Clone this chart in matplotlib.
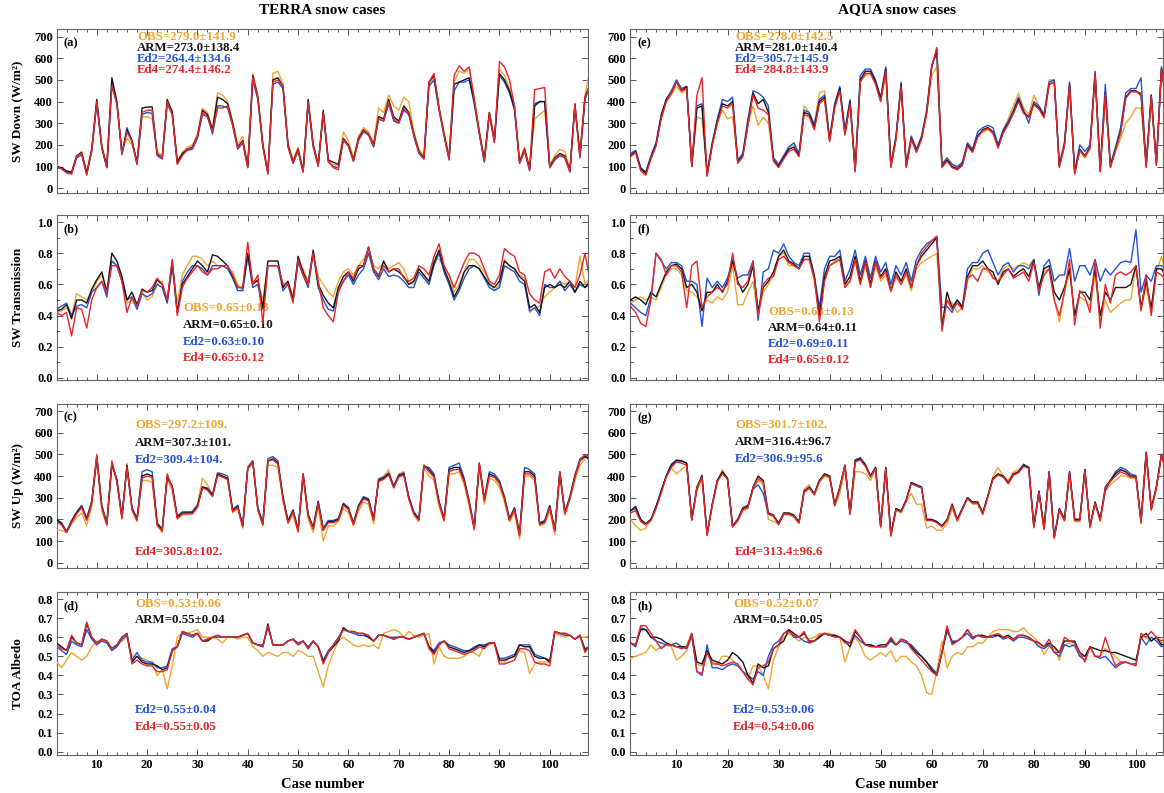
import matplotlib
matplotlib.use("Agg")
import matplotlib.pyplot as plt
from matplotlib.ticker import MultipleLocator

plt.rcParams['font.family'] = ['Liberation Serif', 'DejaVu Serif']
plt.rcParams['font.weight'] = 'bold'

# ---------------- data (case 1..108) ----------------
terra_down_arm = [100, 100, 95, 80, 75, 150, 165, 70, 180, 410,
                  190, 100, 510, 400, 160, 270, 220, 120, 370, 375,
                  375, 160, 140, 410, 350, 120, 160, 180, 190, 240,
                  360, 340, 270, 420, 410, 390, 300, 190, 220, 100,
                  520, 420, 200, 70, 500, 510, 470, 200, 120, 180,
                  80, 410, 200, 110, 360, 130, 120, 110, 230, 200,
                  130, 230, 270, 250, 200, 330, 320, 410, 330, 310,
                  380, 350, 250, 170, 140, 490, 520, 370, 250, 140,
                  480, 490, 500, 510, 400, 260, 130, 350, 220, 530,
                  500, 450, 370, 120, 180, 90, 380, 400, 400, 100,
                  140, 160, 150, 80, 390, 150, 420, 480]
terra_down_obs = [100, 105, 90, 75, 70, 145, 170, 75, 175, 400,
                  200, 105, 490, 390, 170, 230, 200, 125, 330, 330,
                  320, 170, 150, 400, 360, 125, 165, 190, 200, 250,
                  370, 350, 275, 440, 430, 400, 310, 200, 240, 105,
                  530, 430, 210, 75, 530, 540, 480, 210, 130, 190,
                  85, 400, 210, 105, 350, 135, 110, 105, 260, 220,
                  140, 240, 280, 260, 210, 370, 350, 430, 380, 360,
                  420, 400, 260, 180, 150, 480, 510, 380, 260, 150,
                  490, 540, 530, 550, 420, 270, 140, 350, 230, 550,
                  520, 460, 380, 130, 190, 95, 320, 340, 360, 110,
                  150, 180, 170, 90, 380, 160, 430, 550]
terra_down_ed2 = [95, 95, 90, 75, 70, 140, 155, 65, 170, 390,
                  185, 95, 480, 390, 155, 280, 215, 110, 340, 350,
                  345, 150, 135, 390, 340, 115, 155, 175, 180, 230,
                  340, 330, 250, 380, 380, 370, 290, 180, 210, 95,
                  500, 410, 190, 70, 480, 490, 460, 190, 115, 170,
                  75, 390, 190, 100, 350, 120, 100, 95, 220, 195,
                  125, 220, 260, 245, 190, 320, 310, 390, 310, 300,
                  360, 340, 240, 160, 135, 470, 500, 360, 240, 130,
                  450, 490, 490, 500, 390, 250, 120, 340, 210, 520,
                  490, 440, 360, 115, 170, 80, 390, 400, 400, 95,
                  130, 150, 140, 75, 380, 140, 410, 470]
terra_down_ed4 = [100, 100, 90, 70, 65, 150, 160, 60, 175, 400,
                  190, 95, 470, 390, 160, 260, 215, 110, 350, 360,
                  360, 155, 140, 400, 340, 110, 150, 180, 185, 240,
                  350, 330, 260, 370, 370, 380, 290, 185, 215, 95,
                  510, 420, 195, 65, 490, 500, 470, 195, 115, 175,
                  75, 400, 195, 105, 350, 125, 95, 85, 225, 195,
                  125, 225, 265, 250, 195, 320, 310, 400, 320, 300,
                  370, 345, 245, 165, 135, 490, 530, 370, 245, 135,
                  520, 565, 540, 560, 410, 255, 125, 345, 215, 585,
                  560, 500, 380, 115, 175, 85, 455, 460, 465, 95,
                  135, 155, 145, 75, 385, 145, 415, 480]

aqua_down_arm = [150, 170, 90, 70, 140, 200, 330, 410, 440, 490,
                 450, 470, 100, 370, 380, 60, 200, 310, 390, 380,
                 400, 120, 150, 300, 440, 390, 410, 350, 130, 100,
                 140, 180, 190, 150, 350, 340, 280, 400, 420, 220,
                 380, 460, 250, 400, 80, 500, 540, 540, 490, 410,
                 550, 100, 230, 480, 100, 230, 170, 230, 350, 560,
                 640, 100, 130, 100, 90, 110, 200, 170, 240, 270,
                 280, 260, 190, 260, 300, 350, 410, 350, 330, 390,
                 370, 330, 480, 490, 100, 200, 480, 70, 180, 150,
                 190, 530, 80, 440, 100, 180, 260, 420, 450, 450,
                 430, 100, 430, 110, 550, 400, 300, 400]
aqua_down_obs = [150, 165, 85, 65, 145, 210, 320, 400, 430, 470,
                 440, 460, 110, 330, 320, 70, 210, 300, 360, 320,
                 330, 130, 160, 300, 380, 290, 330, 300, 140, 110,
                 150, 190, 200, 160, 380, 350, 300, 440, 450, 230,
                 390, 460, 260, 400, 90, 490, 520, 530, 480, 400,
                 530, 110, 240, 470, 110, 240, 180, 240, 340, 520,
                 560, 110, 140, 110, 95, 120, 200, 180, 250, 260,
                 270, 250, 200, 270, 320, 380, 440, 370, 340, 430,
                 380, 340, 500, 500, 110, 210, 470, 80, 170, 140,
                 180, 510, 90, 420, 110, 170, 230, 300, 330, 370,
                 370, 110, 400, 120, 560, 380, 290, 380]
aqua_down_ed2 = [160, 175, 95, 75, 150, 210, 340, 410, 450, 500,
                 460, 470, 110, 380, 390, 70, 210, 320, 410, 400,
                 420, 130, 160, 320, 450, 440, 420, 380, 140, 110,
                 150, 190, 210, 160, 360, 350, 290, 410, 430, 230,
                 390, 470, 270, 410, 90, 520, 550, 550, 500, 420,
                 560, 110, 240, 490, 110, 240, 180, 240, 360, 570,
                 620, 110, 140, 110, 100, 120, 210, 180, 260, 280,
                 290, 280, 200, 270, 310, 360, 420, 360, 300, 400,
                 380, 340, 490, 500, 110, 210, 490, 80, 200, 170,
                 200, 540, 90, 480, 110, 190, 280, 440, 460, 460,
                 510, 110, 430, 120, 560, 410, 310, 410]
aqua_down_ed4 = [145, 165, 80, 60, 135, 195, 320, 400, 440, 490,
                 450, 460, 100, 430, 510, 55, 195, 300, 380, 370,
                 390, 115, 145, 290, 430, 370, 360, 340, 125, 95,
                 135, 170, 180, 145, 340, 330, 270, 390, 410, 215,
                 370, 450, 245, 390, 75, 490, 530, 530, 480, 400,
                 540, 95, 225, 470, 95, 225, 165, 225, 345, 560,
                 650, 95, 125, 95, 85, 105, 195, 165, 235, 265,
                 275, 255, 185, 255, 295, 345, 400, 345, 325, 385,
                 365, 325, 480, 490, 95, 195, 475, 65, 175, 145,
                 185, 530, 75, 435, 95, 175, 255, 415, 445, 445,
                 440, 95, 425, 105, 545, 395, 295, 395]

terra_trans_arm = [0.43, 0.43, 0.44, 0.47, 0.38, 0.50, 0.50, 0.48, 0.57, 0.63,
                   0.68, 0.55, 0.80, 0.75, 0.65, 0.50, 0.55, 0.47, 0.57, 0.55,
                   0.56, 0.63, 0.60, 0.50, 0.75, 0.42, 0.60, 0.65, 0.70, 0.75,
                   0.72, 0.68, 0.79, 0.78, 0.75, 0.72, 0.65, 0.58, 0.58, 0.80,
                   0.60, 0.63, 0.45, 0.75, 0.75, 0.75, 0.58, 0.62, 0.50, 0.78,
                   0.68, 0.60, 0.82, 0.60, 0.53, 0.48, 0.45, 0.58, 0.65, 0.68,
                   0.62, 0.70, 0.72, 0.84, 0.70, 0.65, 0.75, 0.68, 0.70, 0.68,
                   0.65, 0.60, 0.62, 0.70, 0.66, 0.62, 0.74, 0.82, 0.70, 0.62,
                   0.52, 0.58, 0.68, 0.72, 0.72, 0.70, 0.65, 0.60, 0.58, 0.62,
                   0.75, 0.72, 0.70, 0.65, 0.62, 0.45, 0.47, 0.42, 0.58, 0.60,
                   0.58, 0.60, 0.58, 0.62, 0.55, 0.62, 0.58, 0.62]
terra_trans_obs = [0.43, 0.42, 0.43, 0.45, 0.40, 0.54, 0.52, 0.50, 0.55, 0.62,
                   0.66, 0.55, 0.75, 0.72, 0.62, 0.48, 0.50, 0.45, 0.55, 0.50,
                   0.52, 0.60, 0.62, 0.48, 0.72, 0.48, 0.66, 0.72, 0.78, 0.78,
                   0.76, 0.72, 0.75, 0.72, 0.72, 0.70, 0.68, 0.60, 0.56, 0.78,
                   0.62, 0.62, 0.50, 0.72, 0.72, 0.72, 0.60, 0.62, 0.52, 0.75,
                   0.70, 0.62, 0.80, 0.65, 0.60, 0.55, 0.52, 0.62, 0.68, 0.70,
                   0.66, 0.72, 0.76, 0.82, 0.72, 0.70, 0.74, 0.70, 0.72, 0.74,
                   0.70, 0.62, 0.60, 0.66, 0.66, 0.60, 0.78, 0.76, 0.72, 0.66,
                   0.55, 0.60, 0.68, 0.76, 0.76, 0.72, 0.68, 0.62, 0.56, 0.60,
                   0.76, 0.72, 0.70, 0.66, 0.64, 0.42, 0.45, 0.46, 0.52, 0.55,
                   0.58, 0.62, 0.60, 0.62, 0.58, 0.78, 0.60, 0.64]
terra_trans_ed2 = [0.44, 0.44, 0.46, 0.48, 0.40, 0.46, 0.47, 0.45, 0.55, 0.58,
                   0.62, 0.52, 0.75, 0.72, 0.62, 0.50, 0.52, 0.44, 0.54, 0.52,
                   0.54, 0.60, 0.58, 0.48, 0.72, 0.42, 0.62, 0.68, 0.72, 0.72,
                   0.70, 0.66, 0.72, 0.72, 0.72, 0.70, 0.64, 0.56, 0.56, 0.78,
                   0.58, 0.60, 0.44, 0.72, 0.72, 0.72, 0.56, 0.60, 0.50, 0.74,
                   0.66, 0.58, 0.80, 0.58, 0.50, 0.44, 0.43, 0.56, 0.62, 0.66,
                   0.60, 0.66, 0.70, 0.80, 0.68, 0.63, 0.70, 0.65, 0.66, 0.65,
                   0.62, 0.58, 0.58, 0.68, 0.64, 0.60, 0.72, 0.80, 0.68, 0.60,
                   0.50, 0.56, 0.64, 0.70, 0.72, 0.70, 0.64, 0.58, 0.56, 0.58,
                   0.72, 0.70, 0.68, 0.62, 0.60, 0.43, 0.45, 0.40, 0.60, 0.58,
                   0.58, 0.62, 0.56, 0.60, 0.55, 0.60, 0.58, 0.60]
terra_trans_ed4 = [0.42, 0.42, 0.40, 0.42, 0.27, 0.45, 0.44, 0.32, 0.50, 0.58,
                   0.62, 0.55, 0.72, 0.72, 0.62, 0.42, 0.52, 0.46, 0.56, 0.55,
                   0.58, 0.64, 0.60, 0.50, 0.76, 0.40, 0.58, 0.64, 0.68, 0.72,
                   0.68, 0.66, 0.70, 0.70, 0.72, 0.72, 0.66, 0.58, 0.58, 0.87,
                   0.60, 0.66, 0.35, 0.72, 0.72, 0.72, 0.60, 0.60, 0.48, 0.76,
                   0.66, 0.60, 0.80, 0.62, 0.45, 0.40, 0.36, 0.55, 0.62, 0.68,
                   0.64, 0.72, 0.72, 0.84, 0.70, 0.66, 0.72, 0.68, 0.70, 0.70,
                   0.64, 0.62, 0.64, 0.72, 0.70, 0.66, 0.78, 0.86, 0.72, 0.66,
                   0.58, 0.66, 0.74, 0.80, 0.80, 0.78, 0.70, 0.62, 0.60, 0.66,
                   0.83, 0.80, 0.78, 0.68, 0.66, 0.54, 0.50, 0.48, 0.68, 0.70,
                   0.64, 0.70, 0.65, 0.62, 0.58, 0.66, 0.80, 0.62]

aqua_trans_arm = [0.50, 0.52, 0.50, 0.47, 0.55, 0.52, 0.60, 0.68, 0.72, 0.73,
                  0.70, 0.58, 0.60, 0.55, 0.43, 0.55, 0.55, 0.60, 0.55, 0.62,
                  0.75, 0.62, 0.55, 0.60, 0.72, 0.43, 0.58, 0.62, 0.68, 0.78,
                  0.82, 0.75, 0.73, 0.70, 0.78, 0.78, 0.65, 0.40, 0.65, 0.75,
                  0.76, 0.78, 0.60, 0.65, 0.78, 0.62, 0.75, 0.60, 0.75, 0.65,
                  0.70, 0.56, 0.68, 0.62, 0.70, 0.58, 0.72, 0.78, 0.82, 0.86,
                  0.90, 0.32, 0.55, 0.45, 0.50, 0.45, 0.65, 0.72, 0.72, 0.75,
                  0.70, 0.68, 0.60, 0.68, 0.70, 0.65, 0.68, 0.70, 0.65, 0.75,
                  0.58, 0.70, 0.72, 0.55, 0.50, 0.58, 0.70, 0.40, 0.55, 0.55,
                  0.50, 0.70, 0.40, 0.55, 0.50, 0.58, 0.58, 0.58, 0.60, 0.72,
                  0.45, 0.62, 0.45, 0.70, 0.70, 0.65, 0.72, 0.70]
aqua_trans_obs = [0.48, 0.50, 0.52, 0.50, 0.52, 0.50, 0.58, 0.66, 0.70, 0.70,
                  0.66, 0.56, 0.55, 0.52, 0.45, 0.50, 0.48, 0.52, 0.50, 0.55,
                  0.72, 0.47, 0.47, 0.55, 0.62, 0.40, 0.55, 0.60, 0.66, 0.78,
                  0.80, 0.72, 0.72, 0.70, 0.76, 0.76, 0.62, 0.42, 0.62, 0.72,
                  0.75, 0.76, 0.60, 0.62, 0.75, 0.60, 0.72, 0.58, 0.72, 0.62,
                  0.66, 0.55, 0.65, 0.60, 0.66, 0.56, 0.70, 0.74, 0.76, 0.78,
                  0.80, 0.36, 0.50, 0.48, 0.42, 0.45, 0.62, 0.70, 0.70, 0.72,
                  0.68, 0.66, 0.62, 0.70, 0.72, 0.70, 0.72, 0.74, 0.72, 0.76,
                  0.55, 0.68, 0.70, 0.50, 0.36, 0.55, 0.68, 0.40, 0.52, 0.50,
                  0.46, 0.66, 0.36, 0.50, 0.42, 0.45, 0.48, 0.50, 0.50, 0.72,
                  0.45, 0.58, 0.42, 0.68, 0.78, 0.66, 0.74, 0.70]
aqua_trans_ed2 = [0.48, 0.45, 0.42, 0.40, 0.52, 0.80, 0.75, 0.70, 0.74, 0.74,
                  0.72, 0.62, 0.62, 0.60, 0.33, 0.64, 0.58, 0.62, 0.58, 0.64,
                  0.76, 0.64, 0.66, 0.66, 0.75, 0.37, 0.68, 0.70, 0.82, 0.80,
                  0.86, 0.78, 0.74, 0.72, 0.80, 0.80, 0.66, 0.45, 0.70, 0.78,
                  0.78, 0.82, 0.62, 0.70, 0.82, 0.66, 0.78, 0.64, 0.78, 0.68,
                  0.74, 0.60, 0.72, 0.66, 0.74, 0.62, 0.76, 0.82, 0.86, 0.88,
                  0.90, 0.45, 0.46, 0.42, 0.50, 0.46, 0.70, 0.74, 0.74, 0.80,
                  0.82, 0.74, 0.66, 0.72, 0.74, 0.68, 0.72, 0.72, 0.70, 0.76,
                  0.53, 0.72, 0.76, 0.62, 0.66, 0.66, 0.83, 0.62, 0.72, 0.72,
                  0.66, 0.76, 0.62, 0.70, 0.66, 0.70, 0.74, 0.75, 0.74, 0.95,
                  0.55, 0.66, 0.62, 0.72, 0.72, 0.70, 0.76, 0.72]
aqua_trans_ed4 = [0.46, 0.42, 0.35, 0.33, 0.50, 0.80, 0.76, 0.66, 0.72, 0.72,
                  0.68, 0.45, 0.72, 0.75, 0.45, 0.52, 0.55, 0.58, 0.56, 0.60,
                  0.80, 0.60, 0.58, 0.62, 0.75, 0.40, 0.60, 0.64, 0.65, 0.76,
                  0.78, 0.74, 0.72, 0.70, 0.76, 0.76, 0.64, 0.36, 0.62, 0.72,
                  0.74, 0.76, 0.58, 0.62, 0.76, 0.60, 0.74, 0.58, 0.74, 0.64,
                  0.68, 0.56, 0.66, 0.60, 0.68, 0.58, 0.72, 0.80, 0.84, 0.88,
                  0.91, 0.30, 0.50, 0.44, 0.48, 0.44, 0.64, 0.66, 0.62, 0.70,
                  0.70, 0.64, 0.62, 0.66, 0.70, 0.64, 0.66, 0.68, 0.62, 0.74,
                  0.56, 0.66, 0.70, 0.50, 0.40, 0.55, 0.76, 0.34, 0.56, 0.52,
                  0.42, 0.76, 0.32, 0.60, 0.48, 0.66, 0.68, 0.66, 0.68, 0.72,
                  0.43, 0.66, 0.40, 0.68, 0.66, 0.62, 0.70, 0.68]

terra_up_arm = [200, 200, 180, 140, 190, 230, 260, 200, 280, 490,
                260, 180, 460, 380, 210, 450, 250, 200, 400, 410,
                400, 180, 150, 400, 350, 210, 230, 230, 230, 260,
                350, 340, 310, 410, 400, 390, 240, 260, 170, 440,
                470, 250, 180, 470, 480, 460, 300, 190, 240, 150,
                410, 220, 160, 280, 150, 190, 190, 200, 270, 250,
                180, 260, 300, 290, 200, 380, 390, 410, 350, 400,
                410, 300, 230, 200, 450, 430, 400, 280, 200, 430,
                440, 440, 380, 280, 160, 460, 290, 410, 400, 370,
                300, 200, 250, 130, 420, 420, 400, 180, 190, 260,
                150, 420, 230, 300, 400, 470, 490, 480]
terra_up_obs = [160, 150, 150, 140, 180, 210, 230, 170, 260, 470,
                240, 170, 450, 370, 200, 460, 240, 190, 380, 380,
                370, 170, 140, 390, 330, 200, 220, 230, 240, 270,
                390, 360, 310, 400, 400, 380, 230, 250, 160, 430,
                460, 240, 170, 450, 450, 440, 280, 180, 220, 140,
                390, 200, 140, 260, 100, 170, 170, 190, 250, 230,
                170, 240, 280, 270, 180, 390, 400, 430, 350, 410,
                420, 290, 220, 190, 440, 400, 380, 260, 190, 410,
                410, 420, 360, 260, 150, 440, 270, 390, 380, 350,
                280, 190, 230, 110, 400, 400, 380, 170, 180, 240,
                130, 400, 220, 290, 380, 450, 480, 500]
terra_up_ed2 = [200, 200, 185, 145, 195, 235, 265, 205, 285, 485,
                265, 185, 455, 385, 215, 440, 255, 205, 420, 430,
                420, 185, 155, 395, 355, 215, 235, 235, 235, 265,
                350, 345, 315, 415, 410, 400, 245, 265, 175, 435,
                465, 255, 185, 480, 490, 470, 305, 195, 245, 155,
                405, 225, 165, 285, 160, 195, 195, 205, 275, 255,
                185, 265, 305, 295, 205, 385, 395, 415, 355, 405,
                415, 305, 235, 205, 445, 440, 410, 285, 205, 440,
                450, 460, 390, 285, 165, 455, 295, 420, 410, 380,
                305, 205, 255, 135, 440, 430, 410, 185, 195, 265,
                155, 415, 235, 305, 405, 480, 495, 470]
terra_up_ed4 = [195, 190, 175, 140, 185, 225, 255, 195, 275, 500,
                255, 175, 470, 375, 205, 440, 245, 195, 390, 400,
                395, 175, 145, 410, 345, 205, 225, 225, 225, 255,
                345, 335, 305, 405, 395, 385, 235, 255, 165, 440,
                470, 245, 175, 470, 475, 455, 295, 185, 235, 145,
                410, 215, 155, 275, 150, 185, 185, 195, 265, 245,
                175, 255, 295, 285, 195, 375, 385, 405, 345, 395,
                405, 295, 225, 195, 450, 420, 395, 275, 195, 420,
                430, 430, 375, 275, 155, 460, 285, 400, 395, 365,
                295, 195, 245, 125, 410, 410, 390, 175, 185, 255,
                145, 420, 225, 295, 395, 470, 500, 490]

aqua_up_arm = [240, 260, 200, 180, 200, 260, 330, 400, 450, 470,
               470, 460, 200, 350, 400, 130, 270, 380, 420, 390,
               170, 200, 250, 260, 350, 400, 380, 230, 220, 180,
               230, 230, 220, 190, 330, 350, 320, 380, 410, 400,
               270, 350, 450, 230, 470, 480, 450, 400, 440, 170,
               440, 130, 250, 240, 290, 370, 360, 350, 200, 200,
               190, 170, 200, 270, 200, 250, 300, 280, 280, 230,
               310, 390, 410, 400, 370, 410, 420, 450, 440, 170,
               330, 160, 420, 120, 250, 200, 420, 200, 200, 430,
               170, 280, 200, 350, 380, 410, 430, 420, 400, 400,
               190, 510, 250, 350, 500, 420, 380, 400]
aqua_up_obs = [200, 170, 150, 160, 200, 260, 330, 400, 440, 410,
               430, 450, 200, 330, 390, 130, 260, 370, 430, 380,
               170, 190, 240, 250, 340, 380, 360, 200, 190, 180,
               220, 220, 210, 180, 340, 360, 310, 370, 400, 390,
               260, 320, 430, 220, 420, 420, 410, 380, 430, 160,
               430, 120, 240, 230, 280, 320, 270, 270, 160, 170,
               150, 150, 180, 250, 190, 250, 300, 270, 270, 220,
               300, 400, 440, 400, 380, 420, 430, 450, 440, 160,
               320, 150, 410, 110, 240, 190, 410, 190, 190, 420,
               160, 270, 190, 330, 360, 380, 400, 400, 390, 390,
               180, 500, 240, 340, 490, 410, 370, 390]
aqua_up_ed2 = [240, 250, 195, 180, 200, 255, 330, 400, 455, 475,
               470, 460, 200, 340, 405, 135, 265, 380, 415, 390,
               165, 200, 255, 265, 340, 360, 320, 225, 215, 185,
               225, 225, 215, 185, 325, 345, 315, 380, 410, 400,
               265, 345, 450, 225, 475, 485, 455, 400, 440, 170,
               435, 130, 250, 235, 290, 370, 355, 345, 195, 195,
               190, 170, 195, 270, 200, 250, 300, 280, 280, 230,
               310, 390, 405, 400, 365, 405, 420, 455, 440, 165,
               330, 160, 420, 115, 250, 200, 420, 200, 200, 430,
               165, 280, 200, 330, 380, 420, 440, 430, 410, 400,
               190, 505, 250, 350, 500, 420, 380, 400]
aqua_up_ed4 = [230, 240, 190, 175, 195, 250, 320, 395, 440, 465,
               460, 450, 195, 345, 395, 125, 265, 375, 410, 385,
               165, 195, 245, 255, 345, 390, 370, 225, 215, 175,
               225, 225, 215, 185, 325, 345, 315, 375, 405, 395,
               265, 345, 450, 225, 465, 475, 445, 395, 435, 165,
               435, 125, 245, 235, 285, 365, 355, 345, 195, 195,
               185, 165, 195, 265, 195, 245, 295, 275, 275, 225,
               305, 385, 405, 395, 365, 405, 415, 445, 435, 165,
               325, 155, 415, 115, 245, 195, 415, 195, 195, 425,
               165, 275, 195, 345, 375, 400, 420, 410, 395, 395,
               185, 510, 245, 345, 500, 415, 375, 395]

terra_alb_arm = [0.57, 0.57, 0.55, 0.53, 0.60, 0.57, 0.56, 0.67, 0.60, 0.57,
                 0.59, 0.58, 0.54, 0.56, 0.60, 0.62, 0.47, 0.50, 0.47, 0.46,
                 0.46, 0.45, 0.43, 0.44, 0.53, 0.55, 0.63, 0.62, 0.61, 0.62,
                 0.58, 0.58, 0.60, 0.61, 0.60, 0.60, 0.60, 0.60, 0.61, 0.62,
                 0.57, 0.56, 0.55, 0.67, 0.56, 0.56, 0.56, 0.58, 0.59, 0.56,
                 0.58, 0.54, 0.58, 0.55, 0.47, 0.52, 0.55, 0.58, 0.65, 0.63,
                 0.63, 0.62, 0.62, 0.60, 0.58, 0.61, 0.61, 0.60, 0.59, 0.60,
                 0.60, 0.59, 0.60, 0.61, 0.62, 0.55, 0.52, 0.56, 0.58, 0.55,
                 0.54, 0.53, 0.52, 0.53, 0.54, 0.56, 0.55, 0.57, 0.57, 0.48,
                 0.48, 0.49, 0.50, 0.56, 0.55, 0.55, 0.50, 0.49, 0.49, 0.47,
                 0.63, 0.62, 0.62, 0.61, 0.59, 0.61, 0.53, 0.56]
terra_alb_obs = [0.47, 0.47, 0.44, 0.48, 0.52, 0.50, 0.48, 0.50, 0.55, 0.58,
                 0.58, 0.57, 0.54, 0.56, 0.58, 0.60, 0.50, 0.50, 0.49, 0.48,
                 0.46, 0.40, 0.43, 0.33, 0.45, 0.60, 0.62, 0.62, 0.63, 0.64,
                 0.60, 0.60, 0.60, 0.59, 0.57, 0.60, 0.60, 0.59, 0.60, 0.60,
                 0.55, 0.53, 0.50, 0.52, 0.51, 0.50, 0.52, 0.52, 0.50, 0.53,
                 0.52, 0.50, 0.50, 0.42, 0.34, 0.45, 0.52, 0.58, 0.60, 0.58,
                 0.56, 0.55, 0.56, 0.55, 0.56, 0.54, 0.62, 0.63, 0.64, 0.63,
                 0.60, 0.63, 0.61, 0.60, 0.61, 0.62, 0.46, 0.55, 0.50, 0.49,
                 0.49, 0.49, 0.50, 0.52, 0.52, 0.50, 0.56, 0.56, 0.57, 0.47,
                 0.47, 0.49, 0.50, 0.53, 0.52, 0.41, 0.46, 0.47, 0.47, 0.47,
                 0.62, 0.61, 0.60, 0.61, 0.59, 0.60, 0.60, 0.61]
terra_alb_ed2 = [0.56, 0.55, 0.53, 0.51, 0.58, 0.56, 0.55, 0.64, 0.59, 0.56,
                 0.58, 0.57, 0.53, 0.55, 0.59, 0.61, 0.48, 0.52, 0.48, 0.47,
                 0.47, 0.44, 0.44, 0.45, 0.54, 0.55, 0.62, 0.61, 0.60, 0.62,
                 0.58, 0.59, 0.60, 0.60, 0.60, 0.60, 0.60, 0.60, 0.61, 0.62,
                 0.57, 0.56, 0.56, 0.65, 0.56, 0.56, 0.56, 0.58, 0.59, 0.57,
                 0.58, 0.55, 0.58, 0.55, 0.48, 0.53, 0.56, 0.60, 0.64, 0.63,
                 0.62, 0.61, 0.61, 0.60, 0.58, 0.61, 0.61, 0.60, 0.60, 0.60,
                 0.60, 0.59, 0.60, 0.61, 0.62, 0.55, 0.53, 0.57, 0.58, 0.56,
                 0.55, 0.54, 0.53, 0.53, 0.55, 0.56, 0.56, 0.57, 0.57, 0.49,
                 0.49, 0.50, 0.51, 0.56, 0.56, 0.56, 0.51, 0.50, 0.49, 0.48,
                 0.63, 0.62, 0.61, 0.61, 0.59, 0.61, 0.54, 0.55]
terra_alb_ed4 = [0.57, 0.56, 0.54, 0.53, 0.61, 0.57, 0.56, 0.68, 0.60, 0.57,
                 0.59, 0.58, 0.54, 0.56, 0.60, 0.62, 0.46, 0.48, 0.46, 0.45,
                 0.45, 0.42, 0.42, 0.43, 0.53, 0.55, 0.63, 0.62, 0.61, 0.62,
                 0.58, 0.59, 0.60, 0.61, 0.60, 0.60, 0.60, 0.60, 0.61, 0.62,
                 0.57, 0.56, 0.55, 0.66, 0.56, 0.56, 0.56, 0.58, 0.59, 0.56,
                 0.58, 0.54, 0.58, 0.55, 0.46, 0.52, 0.56, 0.59, 0.64, 0.63,
                 0.63, 0.62, 0.62, 0.61, 0.58, 0.61, 0.61, 0.60, 0.59, 0.60,
                 0.60, 0.59, 0.60, 0.61, 0.62, 0.54, 0.51, 0.56, 0.58, 0.54,
                 0.53, 0.52, 0.51, 0.52, 0.53, 0.55, 0.54, 0.57, 0.57, 0.46,
                 0.46, 0.47, 0.48, 0.54, 0.54, 0.53, 0.47, 0.46, 0.46, 0.45,
                 0.63, 0.62, 0.62, 0.61, 0.59, 0.61, 0.52, 0.56]

aqua_alb_arm = [0.57, 0.56, 0.64, 0.64, 0.60, 0.60, 0.59, 0.57, 0.56, 0.55,
                0.55, 0.55, 0.62, 0.47, 0.46, 0.53, 0.48, 0.47, 0.46, 0.48,
                0.52, 0.50, 0.47, 0.40, 0.36, 0.46, 0.44, 0.45, 0.54, 0.56,
                0.58, 0.64, 0.62, 0.60, 0.62, 0.58, 0.58, 0.60, 0.62, 0.61,
                0.61, 0.60, 0.58, 0.55, 0.63, 0.60, 0.56, 0.56, 0.55, 0.56,
                0.56, 0.59, 0.56, 0.59, 0.58, 0.55, 0.52, 0.50, 0.47, 0.43,
                0.40, 0.52, 0.65, 0.57, 0.58, 0.60, 0.64, 0.60, 0.61, 0.61,
                0.60, 0.61, 0.61, 0.60, 0.61, 0.59, 0.61, 0.61, 0.60, 0.58,
                0.57, 0.55, 0.57, 0.55, 0.52, 0.58, 0.58, 0.58, 0.52, 0.50,
                0.55, 0.54, 0.53, 0.53, 0.52, 0.52, 0.51, 0.50, 0.49, 0.48,
                0.60, 0.62, 0.58, 0.60, 0.56, 0.57, 0.58, 0.57]
aqua_alb_obs = [0.49, 0.50, 0.51, 0.52, 0.56, 0.53, 0.55, 0.56, 0.55, 0.48,
                0.50, 0.53, 0.60, 0.46, 0.45, 0.52, 0.47, 0.46, 0.50, 0.50,
                0.48, 0.45, 0.42, 0.38, 0.45, 0.45, 0.40, 0.33, 0.48, 0.55,
                0.60, 0.62, 0.60, 0.58, 0.60, 0.59, 0.60, 0.62, 0.62, 0.62,
                0.61, 0.60, 0.47, 0.55, 0.60, 0.56, 0.50, 0.48, 0.50, 0.52,
                0.50, 0.53, 0.47, 0.50, 0.50, 0.47, 0.45, 0.40, 0.31, 0.30,
                0.42, 0.58, 0.44, 0.50, 0.52, 0.51, 0.55, 0.55, 0.57, 0.57,
                0.60, 0.63, 0.64, 0.64, 0.64, 0.63, 0.63, 0.65, 0.62, 0.60,
                0.57, 0.51, 0.55, 0.55, 0.48, 0.56, 0.57, 0.55, 0.50, 0.50,
                0.55, 0.50, 0.50, 0.54, 0.52, 0.50, 0.47, 0.47, 0.46, 0.46,
                0.60, 0.60, 0.58, 0.60, 0.57, 0.57, 0.58, 0.57]
aqua_alb_ed2 = [0.57, 0.55, 0.65, 0.64, 0.60, 0.58, 0.57, 0.56, 0.56, 0.57,
                0.55, 0.54, 0.61, 0.42, 0.40, 0.56, 0.44, 0.44, 0.43, 0.45,
                0.46, 0.45, 0.42, 0.40, 0.38, 0.42, 0.40, 0.50, 0.56, 0.58,
                0.62, 0.64, 0.60, 0.60, 0.58, 0.57, 0.58, 0.60, 0.62, 0.61,
                0.61, 0.60, 0.58, 0.57, 0.61, 0.58, 0.56, 0.56, 0.55, 0.55,
                0.55, 0.58, 0.56, 0.58, 0.57, 0.56, 0.53, 0.50, 0.47, 0.44,
                0.41, 0.52, 0.63, 0.58, 0.58, 0.60, 0.62, 0.59, 0.61, 0.60,
                0.60, 0.60, 0.61, 0.59, 0.60, 0.58, 0.60, 0.60, 0.59, 0.58,
                0.55, 0.54, 0.56, 0.52, 0.50, 0.56, 0.55, 0.56, 0.50, 0.48,
                0.55, 0.50, 0.49, 0.50, 0.47, 0.44, 0.46, 0.47, 0.46, 0.46,
                0.60, 0.56, 0.60, 0.58, 0.55, 0.56, 0.57, 0.56]
aqua_alb_ed4 = [0.57, 0.56, 0.66, 0.66, 0.62, 0.58, 0.54, 0.56, 0.56, 0.55,
                0.54, 0.55, 0.62, 0.42, 0.41, 0.52, 0.46, 0.46, 0.45, 0.46,
                0.47, 0.46, 0.42, 0.38, 0.35, 0.44, 0.45, 0.47, 0.54, 0.56,
                0.62, 0.63, 0.61, 0.60, 0.63, 0.57, 0.58, 0.61, 0.62, 0.61,
                0.60, 0.60, 0.57, 0.57, 0.64, 0.60, 0.56, 0.55, 0.55, 0.55,
                0.55, 0.60, 0.56, 0.59, 0.58, 0.54, 0.51, 0.48, 0.45, 0.42,
                0.40, 0.52, 0.66, 0.56, 0.58, 0.60, 0.64, 0.60, 0.61, 0.60,
                0.60, 0.61, 0.62, 0.60, 0.60, 0.59, 0.61, 0.61, 0.60, 0.58,
                0.57, 0.55, 0.59, 0.52, 0.52, 0.60, 0.58, 0.57, 0.52, 0.47,
                0.55, 0.50, 0.50, 0.60, 0.52, 0.45, 0.47, 0.47, 0.46, 0.45,
                0.62, 0.60, 0.63, 0.60, 0.58, 0.60, 0.61, 0.58]

series_names = ['OBS', 'ARM', 'Ed2', 'Ed4']
colors = {'OBS': '#EFA631', 'ARM': '#151515', 'Ed2': '#2352D6', 'Ed4': '#E4262B'}

# ---------------- layout (pixels of the 1164x793 image) ----------------
W, H = 1164, 793
cols = {'L': (57, 588), 'R': (630, 1163)}
rows = [(29, 193), (215, 380), (403.5, 567.5), (592, 755)]
xlims = {'L': (2.1, 107.6), 'R': (0.9, 105.3)}

fig = plt.figure(figsize=(W / 100, H / 100), dpi=100)

panels = [
    # col, row, tag, data, stats, stat text x, stat text ys
    ('L', 0, '(a)', [terra_down_obs, terra_down_arm, terra_down_ed2, terra_down_ed4],
     ['279.0±141.9', '273.0±138.4', '264.4±134.6', '274.4±146.2'], 137, [37, 48, 59, 70]),
    ('R', 0, '(e)', [aqua_down_obs, aqua_down_arm, aqua_down_ed2, aqua_down_ed4],
     ['278.0±142.5', '281.0±140.4', '305.7±145.9', '284.8±143.9'], 735, [37, 48, 59, 70]),
    ('L', 1, '(b)', [terra_trans_obs, terra_trans_arm, terra_trans_ed2, terra_trans_ed4],
     ['0.65±0.13', '0.65±0.10', '0.63±0.10', '0.65±0.12'], 183, [308, 325, 342, 358]),
    ('R', 1, '(f)', [aqua_trans_obs, aqua_trans_arm, aqua_trans_ed2, aqua_trans_ed4],
     ['0.63±0.13', '0.64±0.11', '0.69±0.11', '0.65±0.12'], 768, [312, 328, 344, 360]),
    ('L', 2, '(c)', [terra_up_obs, terra_up_arm, terra_up_ed2, terra_up_ed4],
     ['297.2±109.', '307.3±101.', '309.4±104.', '305.8±102.'], 135, [425, 443, 460, 552]),
    ('R', 2, '(g)', [aqua_up_obs, aqua_up_arm, aqua_up_ed2, aqua_up_ed4],
     ['301.7±102.', '316.4±96.7', '306.9±95.6', '313.4±96.6'], 735, [425, 442, 459, 552]),
    ('L', 3, '(d)', [terra_alb_obs, terra_alb_arm, terra_alb_ed2, terra_alb_ed4],
     ['0.53±0.06', '0.55±0.04', '0.55±0.04', '0.55±0.05'], 135, [604, 620, 710, 727]),
    ('R', 3, '(h)', [aqua_alb_obs, aqua_alb_arm, aqua_alb_ed2, aqua_alb_ed4],
     ['0.52±0.07', '0.54±0.05', '0.53±0.06', '0.54±0.06'], 733, [604, 620, 710, 727]),
]

ylims = [(-22, 735), (-0.013, 1.045), (-22, 735), (-0.017, 0.837)]
ymajor = [100, 0.2, 100, 0.1]
ylabels = ['SW Down (W/m²)', 'SW Transmission', 'SW Up (W/m²)', 'TOA Albedo']
draw_order = ['OBS', 'Ed2', 'ARM', 'Ed4']

for col, row, tag, data, stats, tx, tys in panels:
    x0, x1 = cols[col]
    top, bot = rows[row]
    ax = fig.add_axes([x0 / W, 1 - bot / H, (x1 - x0) / W, (bot - top) / H])
    series = dict(zip(series_names, data))
    for name in draw_order:
        vals = series[name]
        ax.plot(range(1, len(vals) + 1), vals, color=colors[name], lw=1.0, zorder=3)
    ax.set_xlim(*xlims[col])
    ax.set_ylim(*ylims[row])
    ax.xaxis.set_major_locator(MultipleLocator(10))
    ax.xaxis.set_minor_locator(MultipleLocator(2))
    ax.yaxis.set_major_locator(MultipleLocator(ymajor[row]))
    if row == 1:
        ax.yaxis.set_minor_locator(MultipleLocator(0.1))
    if row in (1, 3):
        ax.yaxis.set_major_formatter(plt.FuncFormatter(lambda v, p: f'{v:.1f}'))
    ax.tick_params(which='both', direction='in', top=True, right=True,
                   color='#555555', width=0.7, labelsize=9, pad=3)
    ax.tick_params(which='major', length=4)
    ax.tick_params(which='minor', length=2)
    if row != 3:
        ax.tick_params(labelbottom=False)
    for sp in ax.spines.values():
        sp.set_color('#666666')
        sp.set_linewidth(0.8)

    def to_ax(px, py):
        return (px - x0) / (x1 - x0), (bot - py) / (bot - top)

    lx, ly = to_ax(x0 + 7, top + 14)
    ax.text(lx, ly, tag, transform=ax.transAxes, fontsize=9, ha='left', va='center', zorder=1)
    for name, st, ty in zip(series_names, stats, tys):
        sx, sy = to_ax(tx, ty)
        ax.text(sx, sy, f'{name}={st}', transform=ax.transAxes, color=colors[name],
                fontsize=9.3, ha='left', va='center', zorder=1)

    if col == 'L':
        fig.text(18 / W, 1 - (top + bot) / 2 / H, ylabels[row], rotation=90,
                 ha='center', va='center', fontsize=9.5)

fig.text((57 + 588) / 2 / W, 1 - 10 / H, 'TERRA snow cases', ha='center', va='center', fontsize=11)
fig.text((630 + 1163) / 2 / W, 1 - 10 / H, 'AQUA snow cases', ha='center', va='center', fontsize=11)
fig.text((57 + 588) / 2 / W, 1 - 784 / H, 'Case number', ha='center', va='center', fontsize=10.5)
fig.text((630 + 1163) / 2 / W, 1 - 784 / H, 'Case number', ha='center', va='center', fontsize=10.5)

fig.savefig('out.png', dpi=100, facecolor='white')
